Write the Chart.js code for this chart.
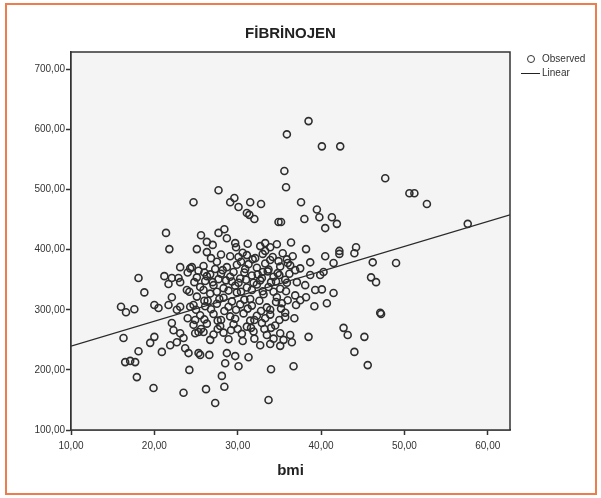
<!DOCTYPE html>
<html>
<head>
<meta charset="utf-8">
<script src="https://cdn.jsdelivr.net/npm/chart.js@4.4.0/dist/chart.umd.min.js"></script>
<style>
  body { margin: 0; background: #fff; font-family: "Liberation Sans", Arial, sans-serif; }
  #wrap { position: relative; width: 601px; height: 498px; }
  #frame { position: absolute; left: 5px; top: 3px; width: 588px; height: 488px; border: 2px solid rgb(238, 125, 78); }
  #title { position: absolute; left: 71px; width: 439px; top: 24px; text-align: center; font-weight: bold; font-size: 15px; color: #222; }
  #c { position: absolute; left: 0; top: 0; }
  .leg { position: absolute; font-size: 10px; color: #333; line-height: 12px; }
  .dot { position: absolute; width: 6px; height: 6px; border: 1.6px solid #333; border-radius: 50%; }
  .bar { position: absolute; height: 0; border-top: 1.4px solid #222; }
</style>
</head>
<body>
<div id="wrap">
  <canvas id="c" width="601" height="498"></canvas>
  <div id="frame"></div>
  <div id="title">FİBRİNOJEN</div>
  <div class="dot" style="left:527px; top:55px;"></div>
  <div class="leg" style="left:542px; top:53px;">Observed</div>
  <div class="bar" style="left:521px; top:73px; width:19px;"></div>
  <div class="leg" style="left:542px; top:67px;">Linear</div>
</div>
<script>
// bmi and fibrinojen values
let bmi = [
  38.5, 35.9, 40.1, 42.3, 35.6, 35.8, 27.7, 24.7, 29.1, 29.6, 30.1, 31.5, 32.8, 37.6, 38.0, 34.9,
  31.1, 31.4, 32.0, 39.5, 39.8, 41.3, 40.5, 41.9, 47.7, 50.6, 51.2, 52.7, 57.6, 21.4, 21.8, 25.6,
  26.3, 27.7, 28.4, 28.7, 29.7, 25.1, 26.3, 32.7, 33.3, 33.9, 33.3, 38.2, 38.7, 40.5, 42.2, 42.2,
  44.2, 44.0, 41.5, 46.2, 46.0, 46.6, 40.3, 39.9, 49.0, 47.2, 42.7, 43.2, 45.2, 44.0, 45.6, 36.7,
  38.5, 39.3, 40.1, 41.5, 40.7, 39.2, 36.8, 35.7, 36.3, 35.5, 36.5, 47.1, 35.2,
  18.1, 18.8, 16.0, 16.6, 17.6, 20.0, 20.5, 21.2, 21.7, 23.1, 24.3, 22.9, 16.3, 18.1, 16.5, 17.1,
  17.7, 17.9, 19.9, 23.5, 24.2, 26.2, 27.3, 28.1, 28.4, 33.7, 34.0, 28.7, 29.7, 31.3, 25.5, 26.6,
  20.0, 19.5, 20.9, 21.9, 22.1, 21.7, 22.7, 22.1, 22.3, 23.1, 23.5, 22.7, 23.7, 24.1, 23.1, 24.3,
  24.9, 25.3, 25.3, 22.1, 23.1, 23.9, 30.1, 28.5,
  29.1, 30.1, 31.1, 32.1, 33.9, 34.9, 35.9,
  24.5, 25.9, 27.3, 28.7, 29.9, 31.3, 32.3, 33.7, 35.1,
  25.1, 26.3, 27.7, 29.1, 30.3, 31.7, 32.9, 34.3, 35.7,
  25.5, 27.1, 28.3, 29.7, 31.1, 32.3, 33.7, 35.1,
  25.1, 26.7, 28.3, 29.9, 31.5, 33.1, 34.7,
  24.7, 26.1, 27.5, 28.9, 30.3, 31.7, 33.5, 35.3,
  25.5, 27.1, 29.1, 30.7, 32.3, 33.9, 35.7,
  24.7, 26.3, 27.9, 29.5, 31.1, 32.9, 34.5,
  24.9, 25.9, 27.1, 28.3, 30.5, 31.9, 33.5, 35.1,
  32.7, 33.9, 35.1,
  36.3, 36.9, 37.5, 37.1, 38.1, 36.9, 37.5, 38.7, 38.2, 37.0,
  26.0, 28.0, 30.8, 33.0, 34.8, 27.0, 29.3, 31.9, 34.0, 26.4, 29.8, 32.8, 28.0, 31.5, 30.0, 33.2,
  26.8, 28.0, 30.6, 31.8, 33.0, 34.2, 35.4, 36.6, 27.5, 30.4, 33.3, 36.0,
  24.0, 25.3, 26.7, 28.2, 29.5, 30.9, 32.4, 33.6, 35.0, 36.2, 24.8, 26.1, 28.6, 30.1, 31.0, 32.7,
  34.6, 35.9,
  24.2, 25.9, 27.5, 28.9, 30.4, 31.7, 33.0, 34.3, 35.8, 26.0, 27.8, 29.3, 30.8, 32.6, 34.6, 36.0,
  25.0, 26.8, 28.4, 31.2, 33.9, 35.2,
  24.0, 26.0, 27.6, 29.7, 32.0, 33.3, 35.0, 25.6, 27.6, 29.2, 31.6, 34.0, 26.7, 28.9, 30.6, 32.0,
  34.3,
  27.0, 29.8, 31.2, 34.7, 36.4
];
let fibrinojen = [
  614, 592, 572, 572, 531, 504, 499, 479, 479, 486, 471, 479, 476, 479, 451, 446,
  461, 458, 451, 467, 454, 454, 436, 443, 519, 494, 494, 476, 443, 428, 401, 424,
  413, 428, 434, 419, 411, 401, 396, 406, 411, 404, 398, 401, 379, 389, 398, 393,
  404, 394, 378, 379, 354, 346, 363, 358, 378, 293, 270, 258, 255, 230, 208, 206,
  255, 333, 334, 328, 311, 306, 286, 295, 258, 250, 246, 295, 446,
  353, 329, 305, 296, 301, 308, 303, 356, 343, 371, 369, 353, 253, 231, 213, 215,
  213, 188, 170, 162, 200, 168, 145, 190, 172, 150, 201, 228, 223, 221, 225, 225,
  255, 245, 230, 241, 321, 308, 300, 278, 266, 261, 253, 246, 236, 228, 305, 305,
  283, 263, 228, 353, 346, 333, 206, 211,
  389, 388, 391, 386, 383, 381, 384,
  371, 373, 368, 371, 375, 376, 370, 367, 372,
  354, 356, 351, 355, 352, 357, 353, 355, 350,
  338, 341, 336, 340, 337, 342, 338, 335,
  322, 327, 320, 329, 318, 326, 321,
  308, 306, 310, 305, 309, 307, 304, 311,
  291, 293, 289, 294, 290, 292, 288,
  275, 277, 273, 276, 272, 278, 274,
  261, 263, 259, 262, 260, 264, 258, 261,
  241, 243, 240,
  374, 366, 369, 346, 341, 324, 316, 358, 321, 308,
  362, 360, 362, 363, 361, 346, 347, 345, 346, 315, 300, 298, 283, 282, 268, 268,
  386, 392, 395, 384, 393, 388, 394, 389, 380, 380, 377, 378,
  362, 365, 359, 366, 363, 368, 359, 364, 358, 360, 346, 348, 349, 345, 350, 349,
  347, 345,
  330, 333, 330, 332, 330, 333, 331, 330, 331, 315, 318, 314, 317, 315, 313, 316,
  300, 301, 298, 302, 300, 302,
  286, 284, 282, 285, 283, 286, 283, 268, 268, 266, 270, 270, 250, 251, 248, 252,
  252,
  408, 404, 410, 409, 412
];

// linear fit
let fitIntercept = 198;
let fitSlope = 4.15;

let xMin = 10, xMax = 62.67;
let yMin = 100, yMax = 729;
let xTicks = [10, 20, 30, 40, 50, 60];
let yTicks = [100, 200, 300, 400, 500, 600, 700];

let fmt = v => v.toFixed(2).replace('.', ',');
let tickFont = { family: '"Liberation Sans", Arial, sans-serif', size: 10 };

let plotFrame = {
  id: 'plotFrame',
  beforeDatasetsDraw(chart) {
    let { ctx, chartArea: a } = chart;
    ctx.save();
    ctx.fillStyle = '#f4f4f4';
    ctx.fillRect(a.left, a.top, a.right - a.left, a.bottom - a.top);
    ctx.restore();
  },
  afterDraw(chart) {
    let { ctx, chartArea: a } = chart;
    ctx.save();
    ctx.strokeStyle = '#333';
    ctx.lineWidth = 1.5;
    ctx.strokeRect(a.left, a.top, a.right - a.left, a.bottom - a.top);
    ctx.restore();
  }
};

let chart = new Chart(document.getElementById('c'), {
  data: {
    datasets: [
      {
        type: 'scatter',
        label: 'Observed',
        data: bmi.map((x, i) => ({ x: x, y: fibrinojen[i] })),
        pointStyle: 'circle',
        pointRadius: 3.5,
        borderWidth: 1.6,
        borderColor: '#2e2e2e',
        backgroundColor: 'rgba(0,0,0,0)'
      },
      {
        type: 'line',
        label: 'Linear',
        data: [xMin, xMax].map(x => ({ x: x, y: fitIntercept + fitSlope * x })),
        borderColor: '#2a2a2a',
        borderWidth: 1.4,
        pointRadius: 0
      }
    ]
  },
  options: {
    responsive: false,
    animation: false,
    devicePixelRatio: 1,
    layout: { padding: { top: 52, right: 91, bottom: 18, left: 0 } },
    plugins: { legend: { display: false }, tooltip: { enabled: false } },
    scales: {
      x: {
        type: 'linear',
        min: xMin,
        max: xMax,
        afterBuildTicks: s => { s.ticks = xTicks.map(v => ({ value: v })); },
        afterFit: s => { s.height = 50; },
        grid: { drawOnChartArea: false, tickLength: 5, tickColor: '#333', tickWidth: 1.5 },
        border: { color: '#333', width: 1.5 },
        ticks: { callback: fmt, font: tickFont, color: '#333', padding: 5, maxRotation: 0, autoSkip: false },
        title: {
          display: true, text: 'bmi', color: '#222',
          font: { family: '"Liberation Sans", Arial, sans-serif', size: 15, weight: 'bold' },
          padding: { top: 0, bottom: 0 }
        }
      },
      y: {
        type: 'linear',
        min: yMin,
        max: yMax,
        afterBuildTicks: s => { s.ticks = yTicks.map(v => ({ value: v })); },
        afterFit: s => { s.width = 71; },
        grid: { drawOnChartArea: false, tickLength: 5, tickColor: '#333', tickWidth: 1.5 },
        border: { color: '#333', width: 1.5 },
        ticks: { callback: fmt, font: tickFont, color: '#333', padding: 1, autoSkip: false }
      }
    }
  },
  plugins: [plotFrame]
});
</script>
</body>
</html>
